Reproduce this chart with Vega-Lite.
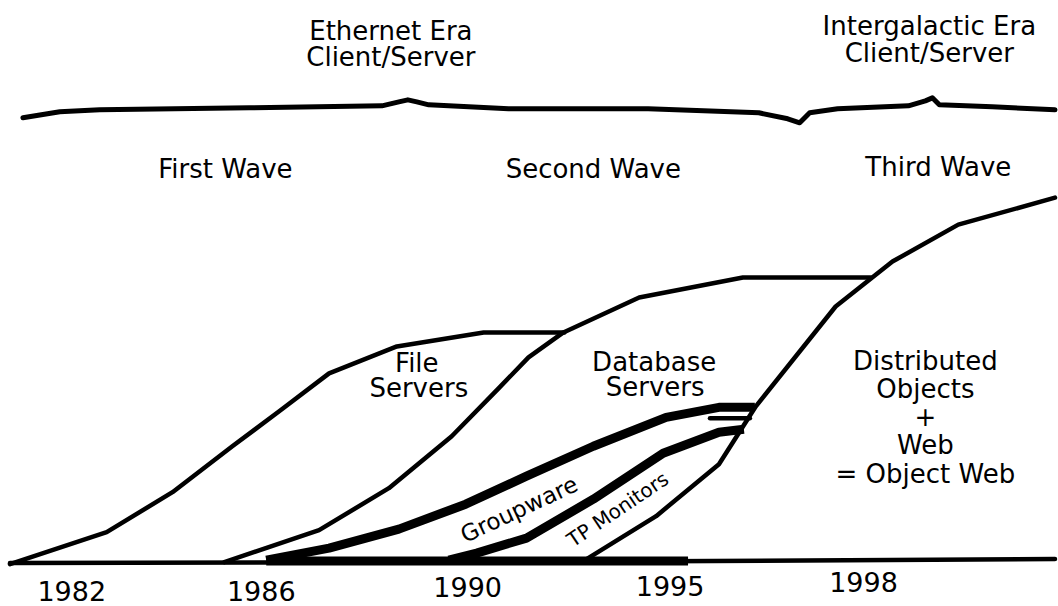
{
  "$schema": "https://vega.github.io/schema/vega-lite/v6.json",
  "width": 1058,
  "height": 606,
  "padding": 0,
  "autosize": {"type": "fit", "contains": "padding"},
  "background": "white",
  "config": {"view": {"stroke": null}, "font": "DejaVu Sans"},
  "datasets": {
    "curves": [
      {"series": "first", "order": 0, "x": 10, "y": 565},
      {"series": "first", "order": 1, "x": 107, "y": 533},
      {"series": "first", "order": 2, "x": 173, "y": 493},
      {"series": "first", "order": 3, "x": 233, "y": 447},
      {"series": "first", "order": 4, "x": 280, "y": 412},
      {"series": "first", "order": 5, "x": 330, "y": 374},
      {"series": "first", "order": 6, "x": 398, "y": 347},
      {"series": "first", "order": 7, "x": 485, "y": 333},
      {"series": "first", "order": 8, "x": 566, "y": 333},
      {"series": "second", "order": 0, "x": 225, "y": 563},
      {"series": "second", "order": 1, "x": 320, "y": 531},
      {"series": "second", "order": 2, "x": 390, "y": 489},
      {"series": "second", "order": 3, "x": 453, "y": 437},
      {"series": "second", "order": 4, "x": 500, "y": 389},
      {"series": "second", "order": 5, "x": 530, "y": 358},
      {"series": "second", "order": 6, "x": 565, "y": 333},
      {"series": "second", "order": 7, "x": 641, "y": 298},
      {"series": "second", "order": 8, "x": 745, "y": 278},
      {"series": "second", "order": 9, "x": 873, "y": 278},
      {"series": "third", "order": 0, "x": 585, "y": 562},
      {"series": "third", "order": 1, "x": 658, "y": 517},
      {"series": "third", "order": 2, "x": 721, "y": 465},
      {"series": "third", "order": 3, "x": 758, "y": 407},
      {"series": "third", "order": 4, "x": 838, "y": 307},
      {"series": "third", "order": 5, "x": 895, "y": 262},
      {"series": "third", "order": 6, "x": 961, "y": 225},
      {"series": "third", "order": 7, "x": 1058, "y": 198},
      {"series": "base", "order": 0, "x": 10, "y": 564},
      {"series": "base", "order": 1, "x": 500, "y": 563},
      {"series": "base", "order": 2, "x": 1058, "y": 560},
      {"series": "gwunder", "order": 0, "x": 712, "y": 419},
      {"series": "gwunder", "order": 1, "x": 752, "y": 419}
    ],
    "thick": [
      {"series": "groupware", "order": 0, "x": 267, "y": 561},
      {"series": "groupware", "order": 1, "x": 330, "y": 549},
      {"series": "groupware", "order": 2, "x": 400, "y": 530},
      {"series": "groupware", "order": 3, "x": 467, "y": 505},
      {"series": "groupware", "order": 4, "x": 528, "y": 477},
      {"series": "groupware", "order": 5, "x": 595, "y": 447},
      {"series": "groupware", "order": 6, "x": 668, "y": 418},
      {"series": "groupware", "order": 7, "x": 721, "y": 408},
      {"series": "groupware", "order": 8, "x": 757, "y": 408},
      {"series": "tp", "order": 0, "x": 450, "y": 561},
      {"series": "tp", "order": 1, "x": 478, "y": 554},
      {"series": "tp", "order": 2, "x": 528, "y": 539},
      {"series": "tp", "order": 3, "x": 595, "y": 500},
      {"series": "tp", "order": 4, "x": 665, "y": 454},
      {"series": "tp", "order": 5, "x": 721, "y": 433},
      {"series": "tp", "order": 6, "x": 746, "y": 430},
      {"series": "basethick", "order": 0, "x": 267, "y": 562},
      {"series": "basethick", "order": 1, "x": 690, "y": 562}
    ],
    "brace": [
      {"order": 0, "x": 23, "y": 118},
      {"order": 1, "x": 60, "y": 112},
      {"order": 2, "x": 100, "y": 110},
      {"order": 3, "x": 250, "y": 108},
      {"order": 4, "x": 383, "y": 106},
      {"order": 5, "x": 400, "y": 102},
      {"order": 6, "x": 409, "y": 100},
      {"order": 7, "x": 418, "y": 102},
      {"order": 8, "x": 430, "y": 105},
      {"order": 9, "x": 510, "y": 109},
      {"order": 10, "x": 650, "y": 109},
      {"order": 11, "x": 761, "y": 113},
      {"order": 12, "x": 790, "y": 119},
      {"order": 13, "x": 802, "y": 123},
      {"order": 14, "x": 812, "y": 113},
      {"order": 15, "x": 840, "y": 109},
      {"order": 16, "x": 911, "y": 106},
      {"order": 17, "x": 928, "y": 101},
      {"order": 18, "x": 935, "y": 98},
      {"order": 19, "x": 942, "y": 105},
      {"order": 20, "x": 995, "y": 107},
      {"order": 21, "x": 1058, "y": 110}
    ],
    "labels": [
      {"group": "head", "text": "Ethernet Era", "x": 392, "y": 40},
      {"group": "head", "text": "Client/Server", "x": 392, "y": 66},
      {"group": "head", "text": "Intergalactic Era", "x": 932, "y": 35},
      {"group": "head", "text": "Client/Server", "x": 932, "y": 62},
      {"group": "head", "text": "First Wave", "x": 226, "y": 178},
      {"group": "head", "text": "Second Wave", "x": 595, "y": 178},
      {"group": "head", "text": "Third Wave", "x": 941, "y": 176},
      {"group": "head", "text": "File", "x": 418, "y": 373},
      {"group": "head", "text": "Servers", "x": 420, "y": 398},
      {"group": "head", "text": "Database", "x": 656, "y": 372},
      {"group": "head", "text": "Servers", "x": 657, "y": 397},
      {"group": "head", "text": "Distributed", "x": 928, "y": 371},
      {"group": "head", "text": "Objects", "x": 928, "y": 399},
      {"group": "head", "text": "+", "x": 928, "y": 427},
      {"group": "head", "text": "Web", "x": 928, "y": 455},
      {"group": "head", "text": "= Object Web", "x": 928, "y": 484},
      {"group": "year", "text": "1982", "x": 72, "y": 602},
      {"group": "year", "text": "1986", "x": 262, "y": 602},
      {"group": "year", "text": "1990", "x": 469, "y": 598},
      {"group": "year", "text": "1995", "x": 672, "y": 597},
      {"group": "year", "text": "1998", "x": 866, "y": 593},
      {"group": "gw", "text": "Groupware", "x": 521, "y": 511},
      {"group": "tp", "text": "TP Monitors", "x": 620, "y": 511}
    ]
  },
  "layer": [
    {
      "data": {"name": "curves"},
      "mark": {"type": "line", "color": "black", "strokeWidth": 4.5, "strokeCap": "round", "strokeJoin": "round"},
      "encoding": {
        "x": {"field": "x", "type": "quantitative", "scale": {"domain": [0, 1058], "nice": false, "zero": false}, "axis": null},
        "y": {"field": "y", "type": "quantitative", "scale": {"domain": [0, 606], "nice": false, "zero": false, "reverse": true}, "axis": null},
        "detail": {"field": "series"},
        "order": {"field": "order", "type": "quantitative"}
      }
    },
    {
      "data": {"name": "thick"},
      "mark": {"type": "line", "color": "black", "strokeWidth": 9, "strokeCap": "butt", "strokeJoin": "round"},
      "encoding": {
        "x": {"field": "x", "type": "quantitative"},
        "y": {"field": "y", "type": "quantitative"},
        "detail": {"field": "series"},
        "order": {"field": "order", "type": "quantitative"}
      }
    },
    {
      "data": {"name": "brace"},
      "mark": {"type": "line", "color": "black", "strokeWidth": 5, "strokeCap": "round", "strokeJoin": "round"},
      "encoding": {
        "x": {"field": "x", "type": "quantitative"},
        "y": {"field": "y", "type": "quantitative"},
        "order": {"field": "order", "type": "quantitative"}
      }
    },
    {
      "data": {"name": "labels"},
      "transform": [{"filter": "datum.group === 'head'"}],
      "mark": {"type": "text", "color": "black", "fontSize": 26, "align": "center", "baseline": "alphabetic"},
      "encoding": {
        "x": {"field": "x", "type": "quantitative"},
        "y": {"field": "y", "type": "quantitative"},
        "text": {"field": "text"}
      }
    },
    {
      "data": {"name": "labels"},
      "transform": [{"filter": "datum.group === 'year'"}],
      "mark": {"type": "text", "color": "black", "fontSize": 27, "align": "center", "baseline": "alphabetic"},
      "encoding": {
        "x": {"field": "x", "type": "quantitative"},
        "y": {"field": "y", "type": "quantitative"},
        "text": {"field": "text"}
      }
    },
    {
      "data": {"name": "labels"},
      "transform": [{"filter": "datum.group === 'gw'"}],
      "mark": {"type": "text", "color": "black", "fontSize": 23, "align": "center", "baseline": "middle", "angle": -25},
      "encoding": {
        "x": {"field": "x", "type": "quantitative"},
        "y": {"field": "y", "type": "quantitative"},
        "text": {"field": "text"}
      }
    },
    {
      "data": {"name": "labels"},
      "transform": [{"filter": "datum.group === 'tp'"}],
      "mark": {"type": "text", "color": "black", "fontSize": 20, "align": "center", "baseline": "middle", "angle": -34},
      "encoding": {
        "x": {"field": "x", "type": "quantitative"},
        "y": {"field": "y", "type": "quantitative"},
        "text": {"field": "text"}
      }
    }
  ]
}
